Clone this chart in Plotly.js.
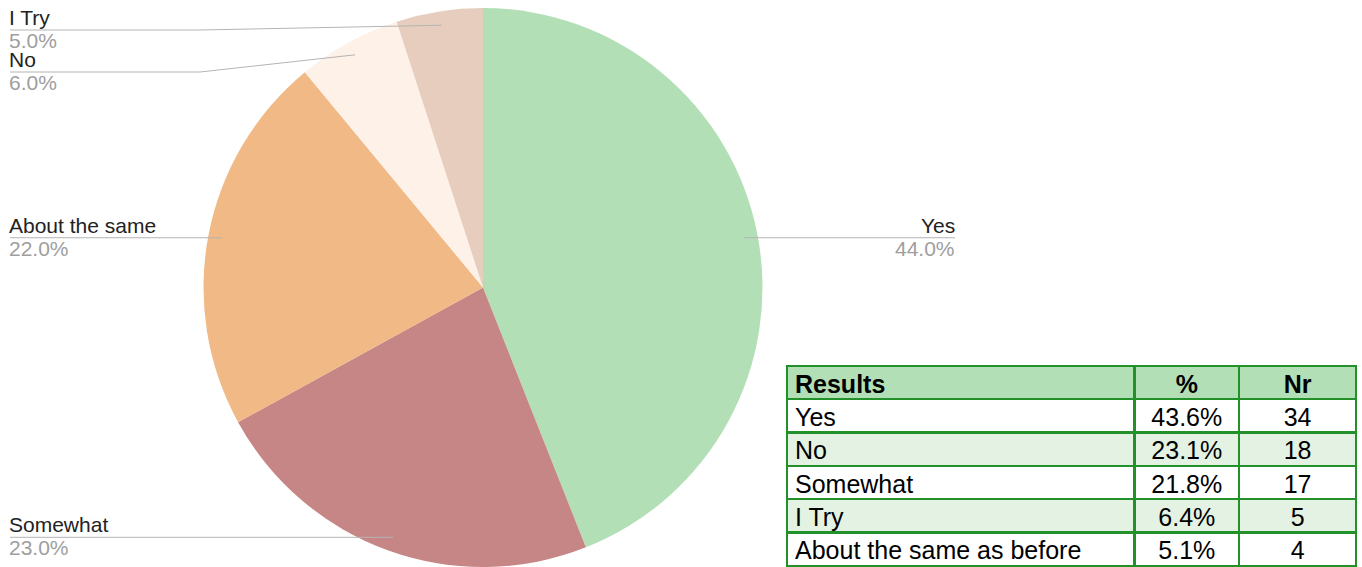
<!DOCTYPE html>
<html><head><meta charset="utf-8">
<script src="https://cdn.plot.ly/plotly-3.0.1.min.js"></script>
<style>html,body{margin:0;padding:0;background:#fff;} #chart{width:1362px;height:567px;}</style>
</head><body><div id="chart"></div>
<script>
// ---- data ----
const pieLabels = ['Yes', 'Somewhat', 'About the same', 'No', 'I Try'];
const pieValues = [44, 23, 22, 6, 5];
const pieColors = ['#b3dfb6', '#c68686', '#f0b985', '#fdf1e8', '#e6cdbd'];

const tableHeader = ['Results', '%', 'Nr'];
const tableAnswers = ['Yes', 'No', 'Somewhat', 'I Try', 'About the same as before'];
const tablePercents = ['43.6%', '23.1%', '21.8%', '6.4%', '5.1%'];
const tableCounts = [34, 18, 17, 5, 4];

// ---- layout geometry ----
const W = 1362, H = 567;
const pieBox = {x0: 203, x1: 763, y0: 8, y1: 567};
const cx = (pieBox.x0 + pieBox.x1) / 2;
const R = Math.min(pieBox.x1 - pieBox.x0, pieBox.y1 - pieBox.y0) / 2;
const cy = pieBox.y0 + R;
const px = x => x / W;
const py = y => 1 - y / H;

const FONT = 'Liberation Sans, Arial, Helvetica, sans-serif';
const total = pieValues.reduce((a, b) => a + b, 0);

// compute label anchors from data
let cum = 0;
const items = pieValues.map((v, i) => {
  const mid = (cum + v / 2) / total; cum += v;
  const th = 2 * Math.PI * mid;
  const ax = cx + 0.95 * R * Math.sin(th);
  const ay = cy - 0.95 * R * Math.cos(th);
  return {i, ax, ay, right: Math.sin(th) > 0, label: pieLabels[i], pct: (v / total * 100).toFixed(1) + '%'};
});

const minY = 30, gap = 42, leftX = 10, rightX = 955, bendLeft = 200, bendRight = 1000;
['L', 'R'].forEach(side => {
  const grp = items.filter(it => (side === 'R') === it.right).sort((a, b) => a.ay - b.ay);
  let prev = -Infinity;
  grp.forEach(it => {
    it.ly = Math.max(it.ay, prev + gap, minY);
    prev = it.ly;
  });
});

const shapes = [], annotations = [];
items.forEach(it => {
  let path;
  if (it.right) {
    const bx = Math.abs(it.ly - it.ay) < 0.5 ? it.ax : Math.min(bendRight, it.ax + 40);
    path = `M${px(it.ax)},${py(it.ay)} L${px(bx)},${py(it.ly)} L${px(rightX)},${py(it.ly)}`;
  } else {
    const bx = Math.abs(it.ly - it.ay) < 0.5 ? it.ax : bendLeft;
    path = `M${px(it.ax)},${py(it.ay)} L${px(bx)},${py(it.ly)} L${px(leftX)},${py(it.ly)}`;
  }
  shapes.push({type: 'path', xref: 'paper', yref: 'paper', path, line: {color: '#b4b4b4', width: 1}});
  const xa = it.right ? 'right' : 'left';
  const xx = px(it.right ? rightX + 1 : leftX - 2);
  annotations.push({xref: 'paper', yref: 'paper', x: xx, y: py(it.ly), xanchor: xa, yanchor: 'bottom',
    text: it.label, showarrow: false, font: {family: FONT, size: 21, color: '#222222'}, borderpad: 0});
  annotations.push({xref: 'paper', yref: 'paper', x: xx, y: py(it.ly - 2), xanchor: xa, yanchor: 'top',
    text: it.pct, showarrow: false, font: {family: FONT, size: 21, color: '#9e9e9e'}, borderpad: 0});
});

const rowColors = tableAnswers.map((_, i) => i % 2 === 0 ? '#ffffff' : '#e3f2e3');
const lineGreen = '#23912a';

const data = [
  {
    type: 'pie',
    labels: pieLabels,
    values: pieValues,
    marker: {colors: pieColors, line: {width: 0}},
    sort: false,
    direction: 'clockwise',
    rotation: 0,
    textinfo: 'none',
    hoverinfo: 'label+percent',
    showlegend: false,
    domain: {x: [px(pieBox.x0), px(pieBox.x1)], y: [py(pieBox.y1), py(pieBox.y0)]}
  },
  {
    type: 'table',
    domain: {x: [px(787), px(1357)], y: [0, py(366)]},
    columnwidth: [348, 105, 117],
    header: {
      values: tableHeader,
      align: ['left', 'center', 'center'],
      fill: {color: '#b3dfb6'},
      line: {color: lineGreen, width: 2.5},
      font: {family: FONT, size: 25, color: '#000000', weight: 'bold'},
      height: 33
    },
    cells: {
      values: [tableAnswers, tablePercents, tableCounts],
      align: ['left', 'center', 'center'],
      fill: {color: [rowColors, rowColors, rowColors]},
      line: {color: lineGreen, width: 2.5},
      font: {family: FONT, size: 25, color: '#000000'},
      height: 33.4
    }
  }
];

const layout = {
  width: W, height: H,
  margin: {l: 0, r: 0, t: 0, b: 0},
  paper_bgcolor: '#ffffff',
  showlegend: false,
  shapes, annotations
};

Plotly.newPlot('chart', data, layout, {displayModeBar: false, staticPlot: true});
</script>
</body></html>
